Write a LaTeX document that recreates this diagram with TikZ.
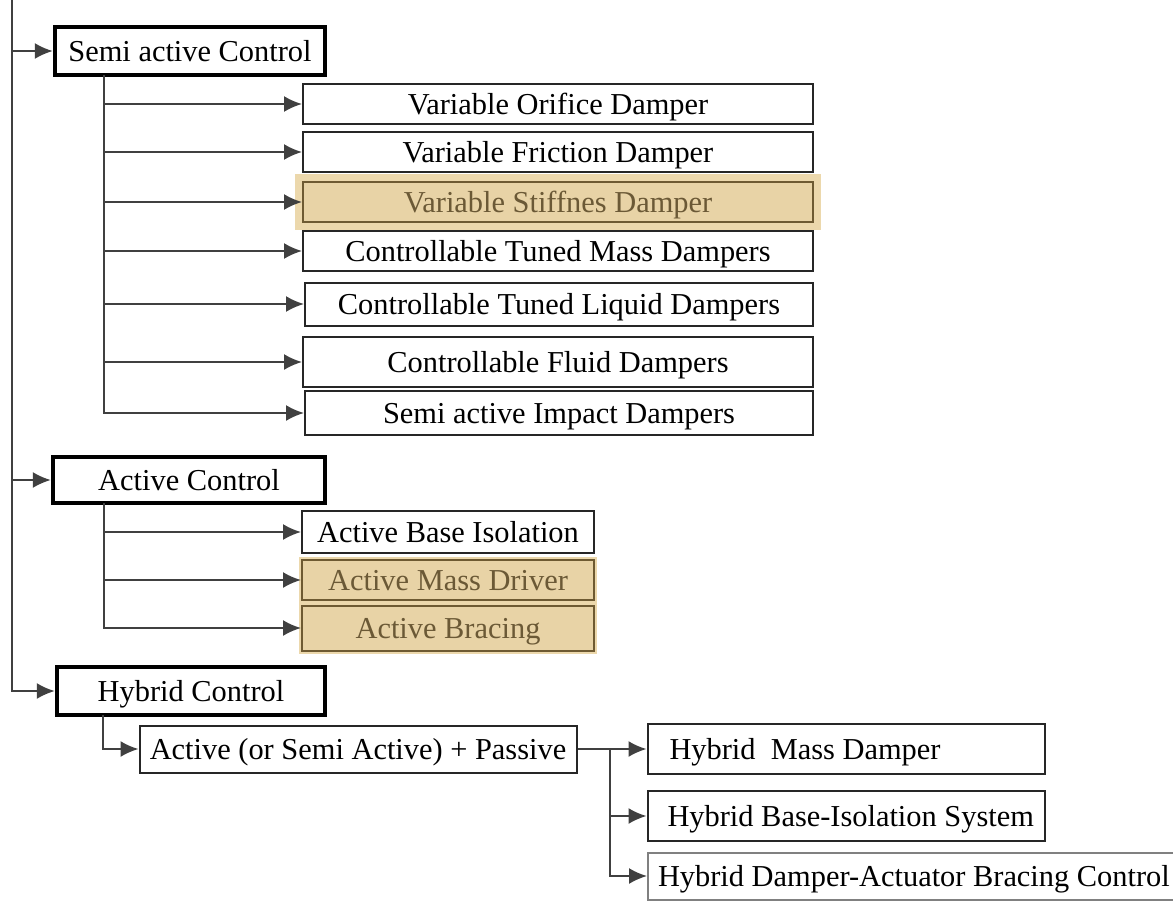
\documentclass[tikz,border=0pt]{standalone}
\usepackage{fontspec}
\setmainfont{Liberation Serif}
\usetikzlibrary{arrows.meta}
\definecolor{linegray}{HTML}{404040}
\definecolor{tanfill}{HTML}{E8D3A6}
\definecolor{tanhalo}{HTML}{ECD8AC}
\definecolor{tanline}{HTML}{6E5A32}
\definecolor{tantext}{HTML}{6B5936}
\newcommand{\lbox}[2]{\makebox[#1][l]{#2}}
\begin{document}
\begin{tikzpicture}[x=0.5pt,y=-0.5pt,
    every node/.style={font=\fontsize{15.2}{18}\selectfont,text height=10pt,text depth=0pt},
    head/.style={draw=black,line width=2.2pt,minimum height=24pt,inner sep=0pt},
    leaf/.style={draw=black!85,line width=1pt,minimum height=20pt,inner sep=0pt},
    hilite/.style={leaf,fill=tanfill,draw=tanline,text=tantext},
    con/.style={draw=linegray,line width=1pt,-{Latex[length=9pt,width=8pt]}}]
    \useasboundingbox (0,0) rectangle (1173,901);
    %\node[] at (0,0) {};
    \node[head,minimum width=135pt] (semi) at (190,51) {Semi active Control};
    \node[leaf,minimum width=255pt] (vo) at (558,104) {Variable Orifice Damper};
    \node[leaf,minimum width=255pt] (vf) at (558,152) {Variable Friction Damper};
    \node[hilite,minimum width=255pt,preaction={draw=tanhalo,line width=8pt}] (vs) at (558,202) {Variable Stiffnes Damper};
    \node[leaf,minimum width=255pt] (ctm) at (558,251) {Controllable Tuned Mass Dampers};
    \node[leaf,minimum width=254pt,minimum height=21.5pt] (ctl) at (559,304) {Controllable Tuned Liquid Dampers};
    \node[leaf,minimum width=255pt,minimum height=25pt] (cfd) at (558,362) {Controllable Fluid Dampers};
    \node[leaf,minimum width=254pt,minimum height=22pt] (sid) at (559,413) {Semi active Impact Dampers};

    \node[head,minimum width=136pt,minimum height=23pt] (act) at (189,480) {Active Control};
    \node[leaf,minimum width=146pt,minimum height=21pt] (abi) at (448,532) {Active Base Isolation};
    \node[hilite,minimum width=146pt,preaction={draw=tanhalo,line width=3pt}] (amd) at (448,580) {Active Mass Driver};
    \node[hilite,minimum width=146pt,minimum height=22.5pt,preaction={draw=tanhalo,line width=3pt}] (abr) at (448,628) {Active Bracing};

    \node[head,minimum width=134pt] (hyb) at (191,691) {Hybrid Control};
    \node[leaf,minimum width=218.5pt,minimum height=23.5pt] (ap) at (358,749) {Active (or Semi Active) + Passive};
    \node[leaf,minimum height=25pt,inner xsep=11pt] (hm) at (846,749) {\lbox{176.5pt}{Hybrid\ \ Mass Damper}};
    \node[leaf,minimum height=25pt,inner xsep=10pt] (hb) at (846,816) {\lbox{178.5pt}{Hybrid Base-Isolation System}};
    \node[leaf,draw=black!50,minimum height=23.5pt,inner xsep=5pt] (hd) at (916,876) {\lbox{258pt}{Hybrid Damper-Actuator Bracing Control}};

    \coordinate (top) at (12,0);
    \coordinate (sb) at (104,75);
    \coordinate (ab) at (104,503);
    \coordinate (hbr) at (103,715);
    \coordinate (hs) at (610,749);

    \draw[con] (top) |- (hyb.west);
    \draw[con] (top |- semi.west) -- (semi.west);
    \draw[con] (top |- act.west) -- (act.west);
    \foreach \n in {vo,vf,vs,ctm,ctl,cfd,sid}
        \draw[con] (sb) |- (\n.west);
    \foreach \n in {abi,amd,abr}
        \draw[con] (ab) |- (\n.west);
    \draw[con] (hbr) |- (ap.west);
    \draw[con] (ap.east) -- (hm.west);
    \draw[con] (hs) |- (hb.west);
    \draw[con] (hs) |- (hd.west);
\end{tikzpicture}
\end{document}
